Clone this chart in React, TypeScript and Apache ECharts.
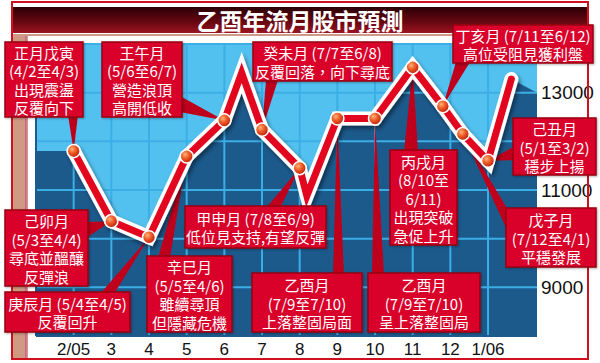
import React, { useEffect, useRef } from 'react';
import * as echarts from 'echarts';

// ---- data ----
const xLabels = ['2/05', '3', '4', '5', '6', '7', '8', '9', '10', '11', '12', '1/06'];
const yTickLabels = [9000, 11000, 13000];
const xRange = [-1, 12.3];
const yRange = [8000, 14000];
const xGridMonths = [0, 1, 2, 3, 4, 5, 6, 7, 8, 9, 10, 11];
const yGridValues = [9000, 10000, 11000, 12000, 13000, 14000];
const pointMonths = [0, 1, 2, 3, 4, 4.46, 5, 6, 6.19, 7, 8, 9, 9.8, 10.33, 11, 11.62];
const pointValues = [11800, 10360, 10030, 11690, 12430, 13410, 12240, 11450, 10880, 12470, 12470, 13520, 12720, 12150, 11600, 13280];
const pointHasDot = [1, 1, 1, 1, 1, 0, 1, 1, 0, 1, 1, 1, 1, 1, 1, 0];
const shadeMonths = [-1, 12.3];
const shadeValues = [11800, 13000];

const titleText = '乙酉年流月股市預測';

const noteTexts = [
  ['正月戊寅', '(4/2至4/3)', '出現震盪', '反覆向下'],
  ['王午月', '(5/6至6/7)', '營造浪頂', '高開低收'],
  ['癸未月 (7/7至6/8)', '反覆回落，向下尋底'],
  ['丁亥月 (7/11至6/12)', '高位受阻見獲利盤'],
  ['己丑月', '(5/1至3/2)', '穩步上揚'],
  ['己卯月', '(5/3至4/4)', '尋底並醞釀', '反彈浪'],
  ['庚辰月 (5/4至4/5)', '反覆回升'],
  ['甲申月 (7/8至6/9)', '低位見支持,有望反彈'],
  ['辛巳月', '(5/5至4/6)', '雖續尋頂', '但隱藏危機'],
  ['乙酉月', '(7/9至7/10)', '上落整固局面'],
  ['乙酉月', '(7/9至7/10)', '呈上落整固局'],
  ['丙戌月', '(8/10至', '6/11)', '出現突破', '急促上升'],
  ['戊子月', '(7/12至4/1)', '平穩發展'],
];
// index of the point each note points at
const noteTargets = [0, 4, 6, 12, 14, 1, 2, 7, 3, 9, 10, 11, 13];

// ---- layout (pixels) ----
const noteBoxes = [
  [5, 42, 78, 75],
  [102, 42, 80, 75],
  [253, 42, 139, 39],
  [453, 25, 140, 38],
  [513, 118, 83, 57],
  [5, 210, 83, 76],
  [5, 292, 125, 40],
  [185, 206, 141, 42],
  [147, 256, 85, 76],
  [252, 273, 110, 59],
  [368, 273, 112, 59],
  [390, 150, 67, 95],
  [506, 208, 90, 59],
];
const noteBases = [
  [[68, 115], [78, 115]],
  [[180, 96], [180, 112]],
  [[266, 80], [278, 80]],
  [[456, 62], [470, 62]],
  [[515, 146], [515, 160]],
  [[86, 222], [86, 238]],
  [[100, 294], [114, 294]],
  [[266, 208], [280, 208]],
  [[158, 258], [170, 258]],
  [[333, 275], [344, 275]],
  [[372, 275], [384, 275]],
  [[404, 152], [418, 152]],
  [[508, 210], [508, 232]],
];

export default function App() {
  const ref = useRef<HTMLDivElement>(null);

  useEffect(() => {
    const chart = echarts.init(ref.current!, null, { renderer: 'svg' });

    const plain = pointMonths.map((m, i) => [m, pointValues[i]]);
    const shade = [[shadeMonths[0], shadeValues[0]], ...plain, [shadeMonths[1], shadeValues[1]]];
    const dotted = plain.map((v, i) => ({ value: v, symbol: pointHasDot[i] ? 'circle' : 'none' }));

    const gridColor = '#3caee6';

    const dotColor = new echarts.graphic.RadialGradient(0.38, 0.35, 0.7, [
      { offset: 0, color: '#ffb27a' },
      { offset: 0.45, color: '#ee5a26' },
      { offset: 1, color: '#b81a08' },
    ]);

    const decor: any[] = [
      {
        type: 'rect', z: 0,
        shape: { x: 12, y: 7, width: 576, height: 26 },
        style: {
          fill: new echarts.graphic.LinearGradient(0, 0, 0, 1, [
            { offset: 0, color: '#2a0006' },
            { offset: 0.6, color: '#6a0812' },
            { offset: 1, color: '#9c1422' },
          ]),
        },
      },
      {
        type: 'text', z: 1,
        style: {
          text: titleText, x: 300, y: 20, align: 'center', verticalAlign: 'middle',
          fill: '#ffffff', fontSize: 23, fontWeight: 'bold', fontFamily: '"Noto Sans CJK TC"',
        },
      },
      { type: 'rect', z: 0, shape: { x: 12, y: 34, width: 576, height: 2 }, style: { fill: '#d09a88' } },
      { type: 'rect', z: 0, shape: { x: 13, y: 36, width: 15, height: 323 }, style: { fill: '#cf9a82' } },
      { type: 'rect', z: 0, shape: { x: 25, y: 36, width: 1.5, height: 323 }, style: { fill: '#d0609a' } },
      {
        type: 'rect', z: 1,
        shape: { x: 12, y: 2, width: 576, height: 357 },
        style: { fill: 'none', stroke: '#d0101e', lineWidth: 2 },
      },
    ];

    const option: any = {
      animation: false,
      backgroundColor: '#ffffff',
      grid: {
        left: 36, top: 44, width: 501, height: 292,
        show: true, backgroundColor: '#53c1ef', borderWidth: 0,
      },
      xAxis: {
        type: 'value', min: xRange[0], max: xRange[1], interval: 1,
        axisLine: { show: false }, axisTick: { show: false }, splitLine: { show: false },
        axisLabel: {
          margin: 5, fontSize: 17, color: '#111', fontFamily: '"Liberation Sans", Arial',
          formatter: (v: number) => (Number.isInteger(v) && v >= 0 && v < xLabels.length ? xLabels[v] : ''),
        },
      },
      yAxis: {
        type: 'value', position: 'right', min: yRange[0], max: yRange[1], interval: 1000,
        axisLine: { show: false }, axisTick: { show: false }, splitLine: { show: false },
        axisLabel: {
          margin: 4, fontSize: 19, color: '#111', fontFamily: '"Liberation Sans Narrow", "Liberation Sans", Arial',
          formatter: (v: number) => (yTickLabels.includes(v) ? String(v) : ''),
        },
      },
      series: [
        {
          type: 'line', z: 1, data: shade, symbol: 'none', silent: true,
          lineStyle: { width: 0 }, areaStyle: { color: '#1c5a8c', opacity: 1 },
        },
        {
          type: 'line', z: 5, data: plain, symbol: 'none', silent: true,
          lineStyle: {
            color: '#ffffff', width: 14, join: 'miter', miterLimit: 10, cap: 'round',
            shadowColor: 'rgba(0,0,0,0.45)', shadowBlur: 4, shadowOffsetX: 2, shadowOffsetY: 3,
          },
        },
        {
          type: 'line', z: 6, data: dotted, symbolSize: 13, silent: true,
          lineStyle: { color: '#e2061e', width: 7, join: 'miter', miterLimit: 10, cap: 'round' },
          itemStyle: { color: dotColor, borderColor: '#ffffff', borderWidth: 1.5 },
        },
      ],
      graphic: { elements: decor },
    };
    chart.setOption(option);

    const toPx = (p: number[]) => chart.convertToPixel({ gridIndex: 0 }, p) as number[];

    const grid: any[] = [];
    xGridMonths.forEach((m) => {
      const a = toPx([m, yRange[0]]);
      const b = toPx([m, yRange[1]]);
      grid.push({ type: 'line', z: 3, shape: { x1: a[0], y1: a[1], x2: b[0], y2: b[1] }, style: { stroke: gridColor, lineWidth: 2 } });
    });
    yGridValues.forEach((v) => {
      const a = toPx([xRange[0], v]);
      const b = toPx([xRange[1], v]);
      grid.push({ type: 'line', z: 3, shape: { x1: a[0], y1: a[1], x2: b[0], y2: b[1] }, style: { stroke: gridColor, lineWidth: 2 } });
    });
    {
      const bl = toPx([xRange[0], yRange[0]]);
      const tl = toPx([xRange[0], yRange[1]]);
      const br = toPx([xRange[1], yRange[0]]);
      grid.push({ type: 'line', z: 3, shape: { x1: tl[0], y1: tl[1], x2: bl[0], y2: bl[1] }, style: { stroke: '#1d5b8e', lineWidth: 2 } });
      grid.push({ type: 'line', z: 3, shape: { x1: bl[0], y1: bl[1], x2: br[0], y2: br[1] }, style: { stroke: '#1d5b8e', lineWidth: 2 } });
    }

    const notes: any[] = [];
    noteTexts.forEach((lines, i) => {
      const tip = toPx(plain[noteTargets[i]]);
      const [b1, b2] = noteBases[i];
      const [bx, by, bw, bh] = noteBoxes[i];
      notes.push({
        type: 'polygon', z: 4,
        shape: { points: [b1, b2, tip] },
        style: { fill: '#bf001c' },
      });
      notes.push({
        type: 'rect', z: 10,
        shape: { x: bx, y: by, width: bw, height: bh },
        style: {
          fill: '#d9002a', stroke: '#98000f', lineWidth: 1.5,
          shadowColor: 'rgba(0,0,0,0.3)', shadowBlur: 2, shadowOffsetX: 1, shadowOffsetY: 1,
        },
      });
      notes.push({
        type: 'text', z: 11,
        style: {
          text: lines.join('\n'), x: bx + bw / 2, y: by + bh / 2 + 0.5,
          align: 'center', verticalAlign: 'middle', fill: '#ffffff',
          fontSize: 15, lineHeight: 18.5, fontFamily: '"Noto Sans CJK TC"',
        },
      });
    });
    chart.setOption({ graphic: { elements: [...decor, ...grid, ...notes] } });

    return () => chart.dispose();
  }, []);

  return <div ref={ref} style={{ position: 'fixed', left: 0, top: 0, width: 600, height: 363 }} />;
}
